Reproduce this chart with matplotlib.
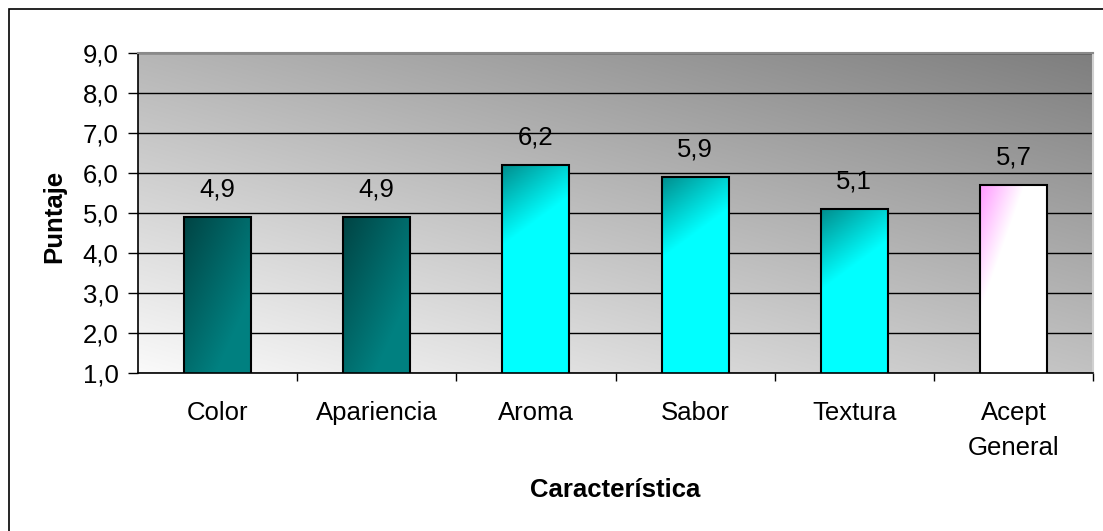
import numpy as np
import matplotlib.pyplot as plt
from matplotlib.patches import Rectangle

plt.rcParams['font.family'] = ['Liberation Sans', 'DejaVu Sans']

categorias = ['Color', 'Apariencia', 'Aroma', 'Sabor', 'Textura', 'Acept\nGeneral']
puntajes = [4.9, 4.9, 6.2, 5.9, 5.1, 5.7]
estilos = ['oscuro', 'oscuro', 'cian', 'cian', 'cian', 'rosa']
y_ticks = [1, 2, 3, 4, 5, 6, 7, 8, 9]

# gradient colours: (start at top-left corner, end)
colores = {
    'oscuro': ('#004444', '#008080'),
    'cian': ('#008e8e', '#00ffff'),
    'rosa': ('#ff99ff', '#ffffff'),
}

W, H, DPI = 1103, 531, 100
fig = plt.figure(figsize=(W / DPI, H / DPI), dpi=DPI)
ax_l, ax_t, ax_r, ax_b = 138, 53, 1093, 373
ax = fig.add_axes([ax_l / W, 1 - ax_b / H, (ax_r - ax_l) / W, (ax_b - ax_t) / H])
ax.set_facecolor('none')

n = len(categorias)
ax.set_xlim(-0.5, n - 0.5)
ax.set_ylim(1, 9)
px_x = (ax_r - ax_l) / n      # pixels per category
px_y = (ax_b - ax_t) / 8.0    # pixels per unit

# plot area background: light bottom-left to dark top-right
gx, gy = np.meshgrid(np.linspace(0, 1, 400), np.linspace(1, 0, 200))
g = 0.45 * gx + 0.55 * gy
fondo = (250 - 124 * g) / 255.0
ax.imshow(np.dstack([fondo] * 3), extent=(0, 1, 0, 1), transform=ax.transAxes,
          aspect='auto', interpolation='bilinear', zorder=0)

ax.set_yticks(y_ticks)
ax.set_yticklabels([f'{v:.1f}'.replace('.', ',') for v in y_ticks])
ax.yaxis.grid(True, color='black', linewidth=1.0)
ax.set_axisbelow(True)

ancho = 0.42


def relleno(estilo, wpx, hpx):
    dx, dy = np.meshgrid(np.arange(wpx), np.arange(hpx))
    if estilo == 'oscuro':
        t = (dx / wpx + dy / 150.0) / 1.5
    elif estilo == 'cian':
        t = 0.62 * dx / wpx + dy / 80.0
    else:
        t = dx / 44.0 + dy / 125.0
    t = np.clip(t, 0, 1)[..., None]
    c0 = np.array(plt.matplotlib.colors.to_rgb(colores[estilo][0]))
    c1 = np.array(plt.matplotlib.colors.to_rgb(colores[estilo][1]))
    return c0 + (c1 - c0) * t


for i, (v, est) in enumerate(zip(puntajes, estilos)):
    wpx = int(round(ancho * px_x))
    hpx = max(int(round((v - 1) * px_y)), 1)
    ax.imshow(relleno(est, wpx, hpx), extent=(i - ancho / 2, i + ancho / 2, 1, v),
              origin='upper', aspect='auto', interpolation='bilinear', zorder=2)

ax.bar(range(n), puntajes, width=ancho, facecolor='none', edgecolor='black',
       linewidth=1.5, zorder=3)

for i, v in enumerate(puntajes):
    ax.annotate(f'{v:.1f}'.replace('.', ','), (i, v), xytext=(0, 14.5),
                textcoords='offset points', ha='center', va='baseline',
                fontsize=18.5, zorder=4)

# category ticks sit between the bars, labels in the middle
ax.set_xticks(np.arange(0.5, n, 1.0))
ax.set_xticklabels([])
ax.set_xticks(range(n), minor=True)
ax.set_xticklabels(categorias, minor=True, fontsize=18.5, linespacing=1.55)
ax.tick_params(axis='x', which='major', direction='out', length=6, width=1)
ax.tick_params(axis='x', which='minor', length=0, pad=20.5)
ax.tick_params(axis='y', direction='out', length=7, width=1, pad=7, labelsize=18.5)

ax.spines['left'].set_linewidth(1.2)
ax.spines['bottom'].set_linewidth(1.2)
ax.spines['top'].set_color('#8a8a8a')
ax.spines['top'].set_linewidth(1.5)
ax.spines['right'].set_color('#d0d0d0')
ax.spines['right'].set_linewidth(1.5)

ax.set_ylabel('Puntaje', fontsize=18.5, fontweight='bold')
ax.yaxis.set_label_coords((54 - ax_l) / (ax_r - ax_l), (ax_b - 216) / (ax_b - ax_t))
ax.set_xlabel('Característica', fontsize=18.5, fontweight='bold')
ax.xaxis.set_label_coords(0.5, (ax_b - 490) / (ax_b - ax_t))
ax.xaxis.label.set_va('center')
ax.yaxis.label.set_va('center')

# chart border
fig.patches.append(Rectangle((9 / W, -0.1), 1.2, 1 - 9 / H + 0.1, transform=fig.transFigure,
                             fill=False, edgecolor='black', linewidth=1.2))

fig.savefig('out.png', dpi=DPI)
